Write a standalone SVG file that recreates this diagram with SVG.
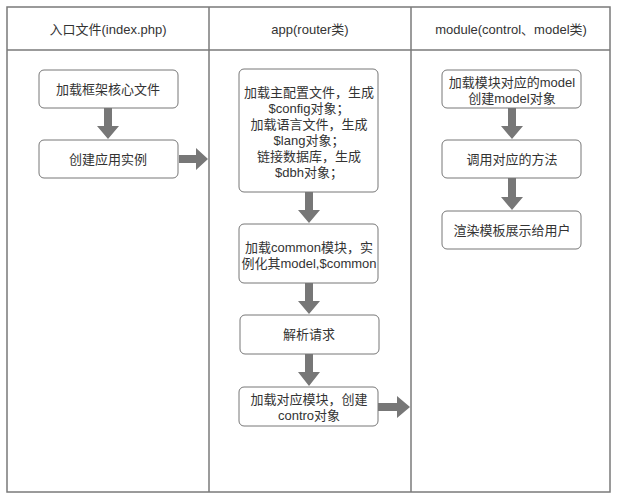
<svg xmlns="http://www.w3.org/2000/svg" width="619" height="502" viewBox="0 0 619 502">
<style>
.grid{fill:none;stroke:#7a7a7a;stroke-width:1.5}
.box{fill:#fff;stroke:#777;stroke-width:1}
.t{font-family:"Liberation Sans","Noto Sans CJK SC",sans-serif;font-size:13px;fill:#333;text-anchor:middle;dominant-baseline:central}
.arr{fill:#777}
</style>
<rect width="619" height="502" fill="#fff"/>
<g id="table">
<rect class="grid" x="7" y="7" width="603" height="485"/>
<line class="grid" x1="7" y1="50" x2="610" y2="50"/>
<line class="grid" x1="209" y1="7" x2="209" y2="492"/>
<line class="grid" x1="411" y1="7" x2="411" y2="492"/>
<text class="t" x="108" y="29">入口文件(index.php)</text>
<text class="t" x="310" y="29">app(router类)</text>
<text class="t" x="511" y="29">module(control、model类)</text>
</g>
<g id="n1"><rect class="box" x="39" y="70" width="139" height="38" rx="5"/><text class="t" x="108" y="89">加载框架核心文件</text></g>
<g id="n2"><rect class="box" x="39" y="140" width="139" height="38" rx="5"/><text class="t" x="108" y="159">创建应用实例</text></g>
<g id="n3"><rect class="box" x="239" y="69" width="139" height="123" rx="5"/>
<text class="t" x="309" y="92">加载主配置文件，生成</text>
<text class="t" x="309" y="108">$config对象；</text>
<text class="t" x="309" y="124">加载语言文件，生成</text>
<text class="t" x="309" y="140">$lang对象；</text>
<text class="t" x="309" y="156">链接数据库，生成</text>
<text class="t" x="309" y="172">$dbh对象；</text></g>
<g id="n4"><rect class="box" x="239" y="224" width="139" height="59" rx="5"/>
<text class="t" x="309" y="247">加载common模块，实</text>
<text class="t" x="309" y="263">例化其model,$common</text></g>
<g id="n5"><rect class="box" x="240" y="315" width="139" height="39" rx="5"/><text class="t" x="309" y="334">解析请求</text></g>
<g id="n6"><rect class="box" x="239" y="387" width="139" height="39" rx="5"/>
<text class="t" x="309" y="399">加载对应模块，创建</text>
<text class="t" x="309" y="415">contro对象</text></g>
<g id="n7"><rect class="box" x="442" y="70" width="139" height="38" rx="5"/>
<text class="t" x="512" y="82">加载模块对应的model</text>
<text class="t" x="512" y="98">创建model对象</text></g>
<g id="n8"><rect class="box" x="442" y="140" width="139" height="38" rx="5"/><text class="t" x="512" y="159">调用对应的方法</text></g>
<g id="n9"><rect class="box" x="442" y="211" width="139" height="38" rx="5"/><text class="t" x="512" y="230">渲染模板展示给用户</text></g>
<g id="connectors">
<path class="arr" d="M104,108 H112 V126 H119 L108,139 L97,126 H104 Z"/>
<path class="arr" d="M179,155 H196 V148 L208,159 L196,170 V163 H179 Z"/>
<path class="arr" d="M305,192 H313 V210 H320 L309,223 L298,210 H305 Z"/>
<path class="arr" d="M305,283 H313 V301 H320 L309,314 L298,301 H305 Z"/>
<path class="arr" d="M305,354 H313 V372 H320 L309,386 L298,372 H305 Z"/>
<path class="arr" d="M378,403 H397 V396 L410,407 L397,418 V411 H378 Z"/>
<path class="arr" d="M508,108 H516 V126 H523 L512,139 L501,126 H508 Z"/>
<path class="arr" d="M508,178 H516 V197 H523 L512,210 L501,197 H508 Z"/>
</g>
</svg>
